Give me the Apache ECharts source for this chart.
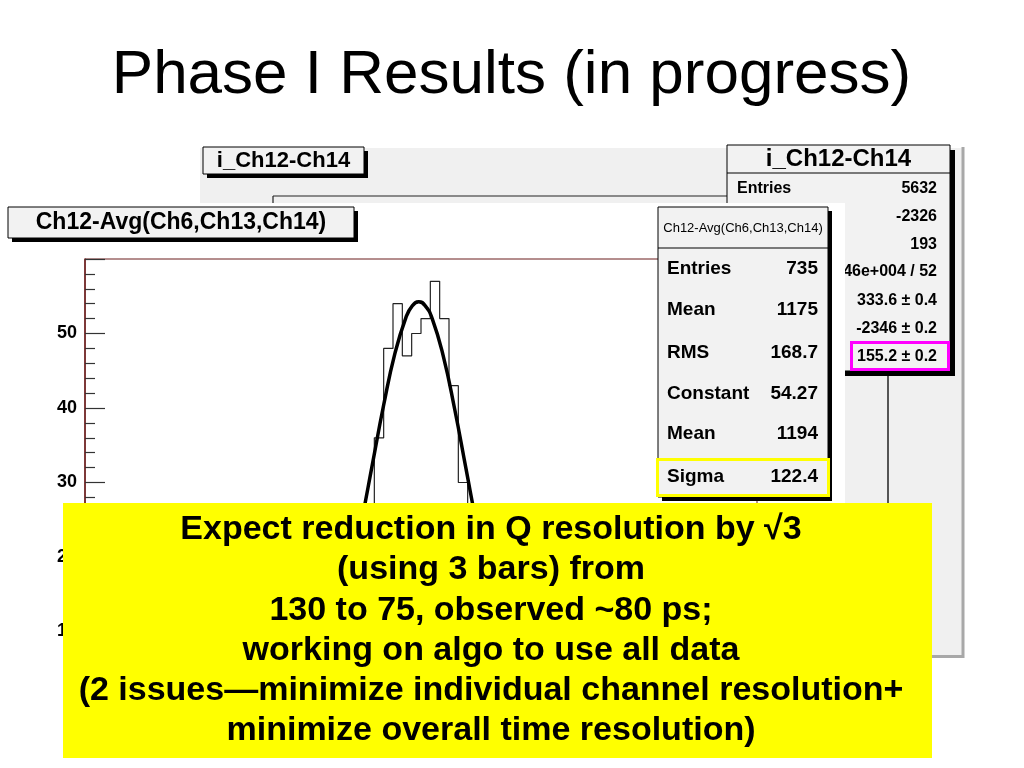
<!DOCTYPE html>
<html>
<head>
<meta charset="utf-8">
<style>
  html, body { margin: 0; padding: 0; background: #ffffff; }
  #chart { width: 1024px; height: 768px; }
</style>
<script src="https://cdn.jsdelivr.net/npm/echarts@6/dist/echarts.min.js"></script>
</head>
<body>
<div id="chart"></div>
<script>
// ---------- data ----------
const binLowEdges = [1000, 1025, 1050, 1075, 1100, 1125, 1150, 1175, 1200, 1225, 1250, 1275, 1300, 1325, 1350, 1375];
const binCounts   = [10, 17, 24, 36, 48, 54, 47, 50, 52, 57, 52, 43, 30, 22, 14, 8];
const binWidth = 25;

const fitX = [1010, 1040, 1070, 1100, 1130, 1160, 1177, 1194, 1211, 1230, 1260, 1290, 1320, 1350, 1380];
const fitY = [17.5, 24.6, 32.5, 40.4, 47.3, 52.2, 53.75, 54.27, 53.75, 52.0, 46.9, 39.9, 32.0, 24.1, 17.1];

const frontTitle = 'Ch12-Avg(Ch6,Ch13,Ch14)';
const frontStatsLabels = ['Entries', 'Mean', 'RMS', 'Constant', 'Mean', 'Sigma'];
const frontStatsValues = ['735', '1175', '168.7', '54.27', '1194', '122.4'];

const backTitle = 'i_Ch12-Ch14';
const backStatsLabels = ['Entries'];
const backStatsValues = ['5632', '-2326', '193', '1.246e+004 / 52', '333.6 \u00b1 0.4', '-2346 \u00b1 0.2', '155.2 \u00b1 0.2'];

const slideTitle = 'Phase I Results (in progress)';
const noteLines = [
  'Expect reduction in Q resolution by \u221a3',
  '(using 3 bars) from',
  '130 to 75, observed ~80 ps;',
  'working on algo to use all data',
  '(2 issues\u2014minimize individual channel resolution+',
  'minimize overall time resolution)'
];

// ---------- build histogram outline ----------
const histPts = [[binLowEdges[0], 0]];
binLowEdges.forEach((lo, i) => {
  histPts.push([lo, binCounts[i]]);
  histPts.push([lo + binWidth, binCounts[i]]);
});
histPts.push([binLowEdges[binLowEdges.length - 1] + binWidth, 0]);
const fitPts = fitX.map((x, i) => [x, fitY[i]]);

// ---------- decoration helpers ----------
const FONT = '"Liberation Sans", Arial, Helvetica, sans-serif';
const G = [];
function rect(x, y, w, h, fill, stroke, lw, z) {
  G.push({ type: 'rect', z: z, shape: { x: x, y: y, width: w, height: h },
    style: { fill: fill || 'none', stroke: stroke || 'none', lineWidth: lw || 0 } });
}
function line(x1, y1, x2, y2, stroke, lw, z) {
  G.push({ type: 'line', z: z, shape: { x1: x1, y1: y1, x2: x2, y2: y2 },
    style: { stroke: stroke, lineWidth: lw } });
}
function text(str, x, y, font, align, z) {
  G.push({ type: 'text', z: z, x: x, y: y,
    style: { text: str, font: font, fill: '#000', textAlign: align, textVerticalAlign: 'middle' } });
}

// back canvas (behind)
rect(200, 148, 763, 509, '#f0f0f0', null, 0, -20);
line(963, 147, 963, 658, '#a8a8a8', 3, -19);
line(200, 656.5, 964, 656.5, '#a8a8a8', 3, -19);
// back frame
line(273, 196, 727, 196, '#222', 1.2, -18);
line(273, 196, 273, 204, '#222', 1.2, -18);
line(888, 371, 888, 510, '#222', 1.5, -18);
// back title box
rect(207, 151, 161, 27, '#000', null, 0, -17);
rect(203, 147, 161, 27, '#f2f2f2', '#000', 1, -16);
text(backTitle, 283.5, 161, 'bold 22px ' + FONT, 'center', -15);
// back stats box
rect(732, 150, 223, 226, '#000', null, 0, -17);
rect(727, 145, 223, 226, '#f2f2f2', '#000', 1, -16);
line(727, 173, 950, 173, '#000', 1, -15);
text(backTitle, 838.5, 159, 'bold 24px ' + FONT, 'center', -15);
const backRowY = [189, 217, 245, 272, 301, 329, 357];
backStatsLabels.forEach((s, i) => text(s, 737, backRowY[i], 'bold 16px ' + FONT, 'left', -15));
backStatsValues.forEach((s, i) => text(s, 937, backRowY[i], 'bold 16px ' + FONT, 'right', -15));
rect(851.5, 342.5, 97, 27, 'none', '#ff00ff', 3, -15);

// front pad (white)
rect(0, 203, 845, 565, '#ffffff', null, 0, -10);
// front title box
rect(12, 211, 346, 31, '#000', null, 0, -9);
rect(8, 207, 346, 31, '#f2f2f2', '#000', 1, -8);
text(frontTitle, 181, 223, 'bold 23px ' + FONT, 'center', -7);

// front stats box (on top of chart)
rect(662, 211, 170, 290, '#000', null, 0, 20);
rect(658, 207, 170, 290, '#f2f2f2', '#000', 1, 21);
line(658, 248, 828, 248, '#000', 1, 22);
text(frontTitle, 743, 228, '13px ' + FONT, 'center', 22);
const frontRowY = [269, 310, 353, 394, 434, 477];
frontStatsLabels.forEach((s, i) => text(s, 667, frontRowY[i], 'bold 19px ' + FONT, 'left', 22));
frontStatsValues.forEach((s, i) => text(s, 818, frontRowY[i], 'bold 19px ' + FONT, 'right', 22));
rect(657.5, 459.5, 171, 36, 'none', '#ffff00', 3, 23);

// yellow note box
rect(63, 503, 869, 255, '#ffff00', null, 0, 30);
const noteY = [530, 570, 610.5, 651, 691, 731];
noteLines.forEach((s, i) => text(s, 491, noteY[i], 'bold 34px ' + FONT, 'center', 31));

// slide title
text(slideTitle, 511.5, 76, '62px ' + FONT, 'center', 31);

// ---------- chart ----------
const chart = echarts.init(document.getElementById('chart'), null, { renderer: 'canvas' });
chart.setOption({
  animation: false,
  backgroundColor: 'transparent',
  grid: { left: 85, top: 259, width: 672, height: 447, show: true,
          borderColor: '#6b1d1d', borderWidth: 1, backgroundColor: 'transparent', containLabel: false },
  xAxis: {
    type: 'value', min: 300, max: 2100,
    axisLine: { show: true, lineStyle: { color: '#6b1d1d', width: 1 } },
    axisTick: { show: true, inside: true, length: 20, lineStyle: { color: '#333' } },
    axisLabel: { show: false },
    splitLine: { show: false }
  },
  yAxis: {
    type: 'value', min: 0, max: 60, interval: 10,
    axisLine: { show: true, lineStyle: { color: '#6b1d1d', width: 1.5 } },
    axisTick: { show: true, inside: true, length: 20, lineStyle: { color: '#333', width: 1.2 } },
    minorTick: { show: true, splitNumber: 5, length: 10, lineStyle: { color: '#333', width: 1.2 } },
    axisLabel: { show: true, margin: 8, color: '#000', fontWeight: 'bold', fontSize: 18,
                 fontFamily: FONT, showMaxLabel: false },
    splitLine: { show: false }
  },
  series: [
    { name: 'hist', type: 'line', data: histPts, symbol: 'none', z: 3,
      lineStyle: { color: '#222', width: 1.2 } },
    { name: 'fit', type: 'line', data: fitPts, symbol: 'none', smooth: true, z: 4,
      lineStyle: { color: '#000', width: 3.5 } }
  ],
  graphic: { elements: G }
});
</script>
</body>
</html>
